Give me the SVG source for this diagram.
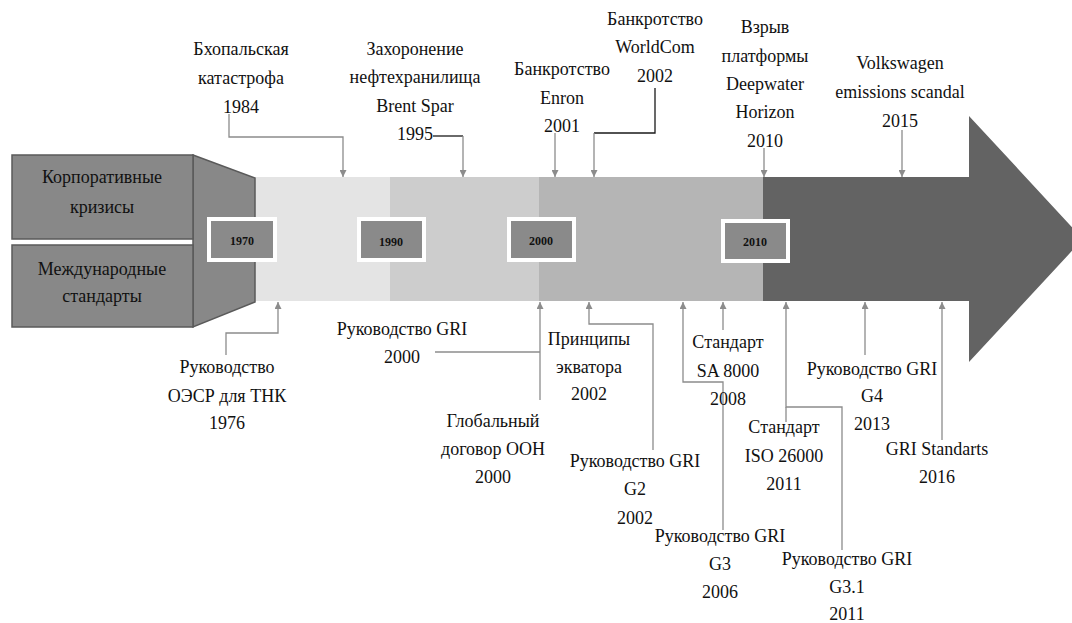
<svg xmlns="http://www.w3.org/2000/svg" width="1072" height="623" viewBox="0 0 1072 623" font-family="Liberation Serif, Times New Roman, Times, serif">
<defs>
<style>
text{font-size:18px;fill:#111;text-anchor:middle}
.yr{font-size:12px;font-weight:bold}
.box{fill:#888;stroke:#5a5a5a;stroke-width:1.5}
.ybox{fill:#8a8a8a;stroke:#fff;stroke-width:4}
.c{fill:none;stroke:#8c8c8c;stroke-width:1.3}
.cd{fill:none;stroke:#1a1a1a;stroke-width:1.3}
</style>
<marker id="ah" viewBox="0 0 8 8" refX="8" refY="4" markerWidth="7" markerHeight="7" markerUnits="userSpaceOnUse" orient="auto">
<path d="M0,0 L8,4 L0,8 Z" fill="#8c8c8c"/>
</marker>
</defs>
<rect width="1072" height="623" fill="#fff"/>

<g id="arrow">
<rect x="255" y="177" width="136" height="124" fill="#e4e4e4"/>
<rect x="390" y="177" width="150" height="124" fill="#cdcdcd"/>
<rect x="539" y="177" width="225" height="124" fill="#b5b5b5"/>
<polygon points="763,177 969,177 969,116 1083,239 969,362 969,301 763,301" fill="#636363"/>
<polygon points="193,155 255,178 255,302 193,327" class="box"/>
</g>

<g id="node-crises">
<rect x="12" y="155" width="181" height="84" class="box"/>
<text x="102" y="183">Корпоративные</text>
<text x="102" y="213">кризисы</text>
</g>
<g id="node-standards">
<rect x="12" y="245" width="181" height="82" class="box"/>
<text x="102" y="275">Международные</text>
<text x="102" y="302">стандарты</text>
</g>

<g id="year-1970"><rect x="209" y="219" width="66" height="41" class="ybox"/><text class="yr" x="242" y="245">1970</text></g>
<g id="year-1990"><rect x="359" y="219" width="65" height="41" class="ybox"/><text class="yr" x="391" y="246">1990</text></g>
<g id="year-2000"><rect x="509" y="219" width="65" height="41" class="ybox"/><text class="yr" x="541" y="245">2000</text></g>
<g id="year-2010"><rect x="723" y="221" width="65" height="40" class="ybox"/><text class="yr" x="755" y="246">2010</text></g>

<g id="connectors">
<path class="c" d="M229,114 V137 H343 V177" marker-end="url(#ah)"/>
<path class="cd" d="M433,136 H463"/>
<path class="c" d="M463,136 V177" marker-end="url(#ah)"/>
<path class="c" d="M555,133 V177" marker-end="url(#ah)"/>
<path class="cd" d="M655,88 V133 H594"/>
<path class="c" d="M594,133 V177" marker-end="url(#ah)"/>
<path class="c" d="M764,148 V177" marker-end="url(#ah)"/>
<path class="c" d="M902,130 V177" marker-end="url(#ah)"/>
<path class="c" d="M226,355 V333 H278 V302" marker-end="url(#ah)"/>
<path class="c" d="M435,352 H540"/>
<path class="c" d="M540,400 V302" marker-end="url(#ah)"/>
<path class="c" d="M653,450 V324 H589 V302" marker-end="url(#ah)"/>
<path class="c" d="M723,330 V302" marker-end="url(#ah)"/>
<path class="c" d="M723,530 V382 H683 V302" marker-end="url(#ah)"/>
<path class="c" d="M842,550 V407 H786 V302" marker-end="url(#ah)"/>
<path class="c" d="M786,407 V422"/>
<path class="c" d="M865,355 V302" marker-end="url(#ah)"/>
<path class="c" d="M942,440 V302" marker-end="url(#ah)"/>
</g>

<g id="ev-bhopal"><text x="241" y="55">Бхопальская</text><text x="241" y="84">катастрофа</text><text x="241" y="113">1984</text></g>
<g id="ev-brentspar"><text x="415" y="55">Захоронение</text><text x="415" y="83">нефтехранилища</text><text x="415" y="112">Brent Spar</text><text x="415" y="140">1995</text></g>
<g id="ev-enron"><text x="562" y="75">Банкротство</text><text x="562" y="104">Enron</text><text x="562" y="132">2001</text></g>
<g id="ev-worldcom"><text x="655" y="25">Банкротство</text><text x="655" y="53">WorldCom</text><text x="655" y="82">2002</text></g>
<g id="ev-deepwater"><text x="765" y="33">Взрыв</text><text x="765" y="62">платформы</text><text x="765" y="90">Deepwater</text><text x="765" y="118">Horizon</text><text x="765" y="147">2010</text></g>
<g id="ev-vw"><text x="900" y="69">Volkswagen</text><text x="900" y="98">emissions scandal</text><text x="900" y="127">2015</text></g>

<g id="st-oecd"><text x="227" y="373">Руководство</text><text x="227" y="402">ОЭСР для ТНК</text><text x="227" y="429">1976</text></g>
<g id="st-gri2000"><text x="402" y="335">Руководство GRI</text><text x="402" y="363">2000</text></g>
<g id="st-ungc"><text x="493" y="427">Глобальный</text><text x="493" y="455">договор ООН</text><text x="493" y="483">2000</text></g>
<g id="st-equator"><text x="589" y="345">Принципы</text><text x="589" y="373">экватора</text><text x="589" y="400">2002</text></g>
<g id="st-g2"><text x="635" y="467">Руководство GRI</text><text x="635" y="495">G2</text><text x="635" y="524">2002</text></g>
<g id="st-sa8000"><text x="728" y="348">Стандарт</text><text x="728" y="377">SA 8000</text><text x="728" y="405">2008</text></g>
<g id="st-g3"><text x="720" y="542">Руководство GRI</text><text x="720" y="570">G3</text><text x="720" y="598">2006</text></g>
<g id="st-iso"><text x="784" y="433">Стандарт</text><text x="784" y="462">ISO 26000</text><text x="784" y="490">2011</text></g>
<g id="st-g31"><text x="847" y="565">Руководство GRI</text><text x="847" y="593">G3.1</text><text x="847" y="620">2011</text></g>
<g id="st-g4"><text x="872" y="375">Руководство GRI</text><text x="872" y="402">G4</text><text x="872" y="430">2013</text></g>
<g id="st-gristd"><text x="937" y="455">GRI Standarts</text><text x="937" y="483">2016</text></g>
</svg>
